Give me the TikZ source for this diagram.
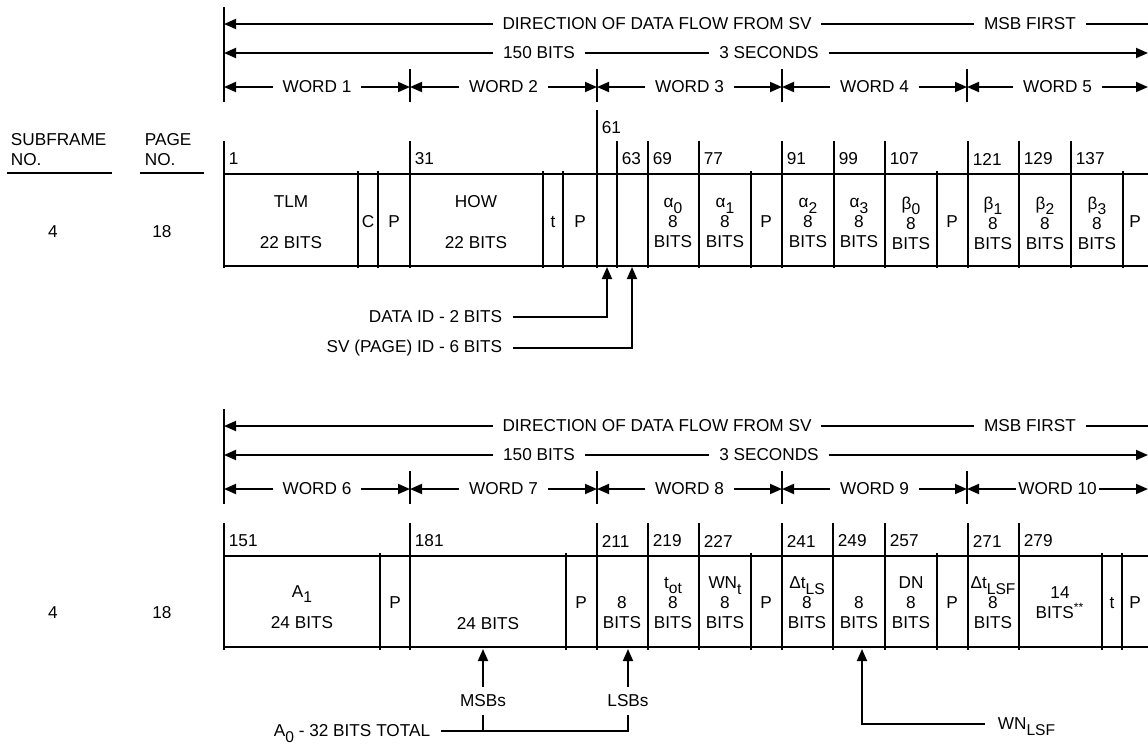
\documentclass[tikz,border=0pt]{standalone}
\usepackage{fontspec}
\setmainfont{Liberation Sans}
\usetikzlibrary{arrows.meta}
\newcommand{\lo}[1]{\raisebox{-0.6ex}[0pt][0pt]{\fontsize{7.8}{9}\selectfont#1}}

\begin{document}
\begin{tikzpicture}[
        x=0.5pt, y=-0.5pt,
        line width=0.9pt,
        every node/.style={font={\fontsize{8.6}{10}\selectfont}, inner sep=0pt},
        cell/.style={align=center},
        bitno/.style={anchor=west},
        hdr/.style={inner xsep=4.5pt, inner ysep=2pt},
        note/.style={anchor=east, inner xsep=5pt},
        lbl/.style={inner ysep=3.5pt},
        arr/.style={-{Triangle[length=6pt,width=5pt]}}
    ]
    \path[fill=white, use as bounding box] (0,0) rectangle (1148,745);

    % Headings
    \node[anchor=north west, align=left] (sfno) at (10,133) {SUBFRAME\\NO.};
    \node[anchor=north west, align=left] (pgno) at (144,133) {PAGE\\NO.};
    \draw (7,173) -- (112,173);
    \draw (140,173) -- (204,173);

    % Header rows for both halves
    \foreach \oy/\h/\w in {0/a/0, 402/b/5} {
        \foreach \k/\x in {0/224,1/410,2/597,3/782,4/967,5/1148}
            \coordinate (\h\k) at (\x,87+\oy);
        \coordinate (l1\h) at (224,24+\oy);
        \coordinate (r1\h) at (1148,24+\oy);
        \coordinate (l2\h) at (224,53+\oy);
        \coordinate (r2\h) at (1148,53+\oy);
        \draw (224,7+\oy) -- (224,102+\oy);
        \foreach \x in {410,597,782,967}
            \draw (\x,69+\oy) -- (\x,102+\oy);

        % Row 1: direction
        \node[hdr] (dir\h) at (657,24+\oy) {DIRECTION OF DATA FLOW FROM SV};
        \node[hdr] (msb\h) at (1030,24+\oy) {MSB FIRST};
        \draw[arr] (dir\h.west) -- (l1\h);
        \draw (dir\h) -- (msb\h);
        \draw (msb\h.east) -- (r1\h);

        % Row 2: length
        \node[hdr] (bits\h) at (539,53+\oy) {150 BITS};
        \node[hdr] (sec\h) at (769,53+\oy) {3 SECONDS};
        \draw[arr] (bits\h.west) -- (l2\h);
        \draw (bits\h) -- (sec\h);
        \draw[arr] (sec\h.east) -- (r2\h);

        % Row 3: words
        \foreach \i [count=\j from 0] in {1,...,5} {
            \pgfmathtruncatemacro{\n}{\i+\w}
            \pgfmathsetmacro{\gap}{\n==10 ? 0.5 : 4.5}
            \path (\h\j) -- node[hdr, inner xsep=\gap pt] (w\h\i) {WORD \n} (\h\i);
            \draw[arr] (w\h\i) -- (\h\j);
            \draw[arr] (w\h\i) -- (\h\i);
        }
    }

    % Subframe 4, words 1-5
    \draw (224,174) -- (1148,174);
    \draw (224,266) -- (1148,266);
    \draw (597,110) -- (597,268);
    \node[bitno] (n61) at (601,128) {61};
    \foreach \x/\b in {224/1,410/31,617/63,648/69,699/77,782/91,834/99,885/107,968/121,1019/129,1071/137} {
        \draw (\x,141) -- (\x,268);
        \node[bitno] (n\b) at (\x+4,159) {\b};
    }
    \foreach \x in {358,378,543,563,751,937,1123}
        \draw (\x,171) -- (\x,268);

    \node (sfa) at (53,232) {4};
    \node (pga) at (162,232) {18};
    \node[cell] (tlm) at (291,222) {TLM\\[10.5pt]22 BITS};
    \node (ca) at (368,222) {C};
    \node (pa1) at (394,222) {P};
    \node[cell] (how) at (476,222) {HOW\\[10.5pt]22 BITS};
    \node (ta) at (553,222) {t};
    \node (pa2) at (580,222) {P};
    \node[cell] (al0) at (673,223) {α\lo{0}\\8\\BITS};
    \node[cell] (al1) at (725,223) {α\lo{1}\\8\\BITS};
    \node (pa3) at (766,222) {P};
    \node[cell] (al2) at (808,223) {α\lo{2}\\8\\BITS};
    \node[cell] (al3) at (859,223) {α\lo{3}\\8\\BITS};
    \node[cell] (be0) at (911,223) {β\lo{0}\\8\\BITS};
    \node (pa4) at (952,222) {P};
    \node[cell] (be1) at (993,223) {β\lo{1}\\8\\BITS};
    \node[cell] (be2) at (1045,223) {β\lo{2}\\8\\BITS};
    \node[cell] (be3) at (1097,223) {β\lo{3}\\8\\BITS};
    \node (pa5) at (1135,222) {P};

    % Data and SV ids
    \node[note] (did) at (513,317) {DATA ID - 2 BITS};
    \node[note] (svid) at (513,348) {SV (PAGE) ID - 6 BITS};
    \coordinate (didtip) at (607,267);
    \coordinate (svidtip) at (632,267);
    \draw[arr] (did.east) -| (didtip);
    \draw[arr] (svid.east) -| (svidtip);

    % Subframe 4, words 6-10
    \draw (224,556) -- (1148,556);
    \draw (224,647) -- (1148,647);
    \foreach \x/\b in {224/151,410/181,597/211,648/219,699/227,782/241,833/249,885/257,968/271,1019/279} {
        \draw (\x,523) -- (\x,650);
        \node[bitno] (n\b) at (\x+4,541) {\b};
    }
    \foreach \x in {380,566,751,937,1102,1122}
        \draw (\x,553) -- (\x,650);

    \node (sfb) at (53,613) {4};
    \node (pgb) at (162,613) {18};
    \node[cell] (aone) at (302,607) {A\lo{1}\\[5.5pt]24 BITS};
    \node (pb1) at (395,603) {P};
    \node (msw) at (488,624) {24 BITS};
    \node (pb2) at (581,603) {P};
    \node[cell] (lsw) at (622,613) {8\\BITS};
    \node[cell] (tot) at (673,603) {t\lo{ot}\\8\\BITS};
    \node[cell] (wnt) at (725,603) {WN\lo{t}\\8\\BITS};
    \node (pb3) at (766,603) {P};
    \node[cell] (dtls) at (807,603) {Δt\lo{LS}\\8\\BITS};
    \node[cell] (wnl) at (859,613) {8\\BITS};
    \node[cell] (dn) at (911,603) {DN\\8\\BITS};
    \node (pb4) at (952,603) {P};
    \node[cell] (dtlsf) at (993,603) {Δt\lo{LSF}\\8\\BITS};
    \node[cell] (res) at (1060,603) {14\\BITS\textsuperscript{**}};
    \node (tb) at (1112,603) {t};
    \node (pb5) at (1135,603) {P};

    % A0 and WN_LSF pointers
    \node[lbl] (msbs) at (483,701) {MSBs};
    \node[lbl] (lsbs) at (628,701) {LSBs};
    \node[note] (azero) at (441,731) {A\lo{0} - 32 BITS TOTAL};
    \coordinate (msbtip) at (483,649);
    \coordinate (lsbtip) at (628,649);
    \draw[arr] (msbs) -- (msbtip);
    \draw[arr] (lsbs) -- (lsbtip);
    \draw (azero.east) -| (lsbs);
    \draw (msbs) -- (msbs |- azero.east);

    \node[anchor=west, inner xsep=6pt] (wnlsf) at (985,724) {WN\lo{LSF}};
    \coordinate (wntip) at (862,649);
    \draw[arr] (wnlsf.west) -| (wntip);
\end{tikzpicture}
\end{document}
